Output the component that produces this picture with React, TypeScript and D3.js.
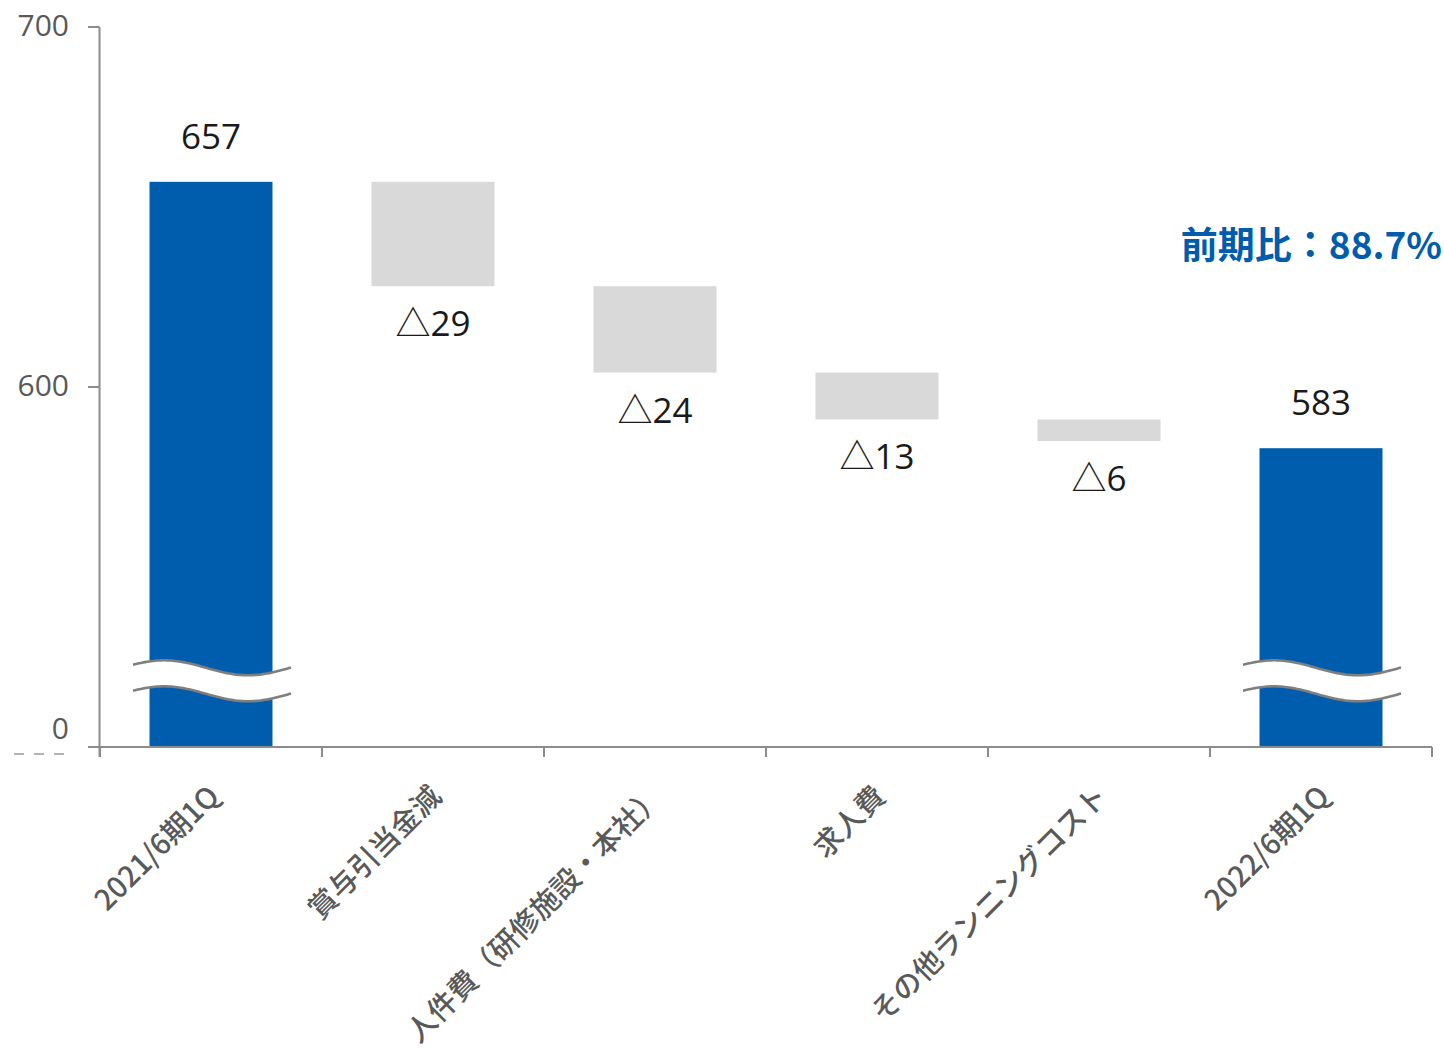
import React from "react";
import * as d3 from "d3";

const categories = [
  "2021/6期1Q",
  "賞与引当金減",
  "人件費（研修施設・本社）",
  "求人費",
  "その他ランニングコスト",
  "2022/6期1Q",
];
const startValue = 657;
const endValue = 583;
const deltas = [-29, -24, -13, -6];
const deltaLabels = ["△29", "△24", "△13", "△6"];
const yTickValues = [500, 600, 700];
const yTickLabels = ["0", "600", "700"];
const breakValue = 522;
const ratioLabel = "前期比：88.7%";

const W = 1444;
const H = 1050;
const BLUE = "#005CAD";
const GRAY_BAR = "#D9D9D9";
const AXIS = "#8C8C8C";
const TEXT_GRAY = "#595959";

type Bar = { cat: string; y0: number; y1: number; kind: "total" | "delta"; label: string };

function buildBars(): Bar[] {
  const bars: Bar[] = [];
  bars.push({ cat: categories[0], y0: 500, y1: startValue, kind: "total", label: String(startValue) });
  let cur = startValue;
  deltas.forEach((d, i) => {
    const next = cur + d;
    bars.push({ cat: categories[i + 1], y0: next, y1: cur, kind: "delta", label: deltaLabels[i] });
    cur = next;
  });
  bars.push({ cat: categories[5], y0: 500, y1: endValue, kind: "total", label: String(endValue) });
  return bars;
}

export default function App() {
  const x = d3.scaleBand<string>().domain(categories).range([100, 1432]).paddingInner(0.446).paddingOuter(0.223);
  const y = d3.scaleLinear().domain([500, 700]).range([747, 27]);
  const bars = buildBars();
  const step = x.step();
  const boundaries = d3.range(categories.length + 1).map((i) => 100 + i * step);
  const valueFont = "'Open Sans', 'Noto Sans CJK JP', sans-serif";

  const breakY = y(breakValue);
  const waveTop = (cx: number) =>
    d3.range(-78, 82, 2).map((dx) => [cx + dx, breakY + 7.5 * Math.cos((2 * Math.PI * (dx - 37)) / 168)] as [number, number]);
  const line = d3.line();

  return (
    <svg width={W} height={H} style={{ position: "absolute", left: 0, top: 0, background: "#fff" }}>
      {/* bars */}
      {bars.map((b, i) => {
        const bx = x(b.cat)!;
        const bw = x.bandwidth();
        const top = y(b.y1);
        const bottom = y(b.y0);
        const cx = bx + bw / 2;
        return (
          <g key={i}>
            <rect x={bx} y={top} width={bw} height={bottom - top} fill={b.kind === "total" ? BLUE : GRAY_BAR} />
            {b.kind === "total" ? (
              <text x={cx} y={top - 33} textAnchor="middle" fontFamily={valueFont} fontSize={35} fill="#1a1a1a">
                {b.label}
              </text>
            ) : (
              <text x={cx} y={bottom + 50} textAnchor="middle" fontFamily={valueFont} fontSize={35} fill="#1a1a1a">
                {b.label}
              </text>
            )}
          </g>
        );
      })}

      {/* axis break waves */}
      {bars
        .filter((b) => b.kind === "total")
        .map((b, i) => {
          const cx = x(b.cat)! + x.bandwidth() / 2;
          const top = waveTop(cx);
          const bot = top.map(([px, py]) => [px, py + 26] as [number, number]);
          const area = line([...top, ...bot.slice().reverse()])! + "Z";
          return (
            <g key={"brk" + i}>
              <path d={area} fill="#fff" />
              <path d={line(top)!} fill="none" stroke="#7f7f7f" strokeWidth={2.6} />
              <path d={line(bot)!} fill="none" stroke="#7f7f7f" strokeWidth={2.6} />
            </g>
          );
        })}

      {/* y axis */}
      <line x1={99.5} x2={99.5} y1={y(700)} y2={757} stroke={AXIS} strokeWidth={2} />
      {yTickValues.map((v, i) => (
        <g key={"yt" + v}>
          <line x1={88} x2={99.5} y1={y(v)} y2={y(v)} stroke={AXIS} strokeWidth={2} />
          <text
            x={69}
            y={y(v) + (v === 500 ? -20 : -3)}
            textAnchor="end"
            dominantBaseline="central"
            fontFamily={valueFont}
            fontSize={30}
            fill={TEXT_GRAY}
          >
            {yTickLabels[i]}
          </text>
        </g>
      ))}
      {[14, 34, 54].map((dx) => (
        <line key={"d" + dx} x1={dx} x2={dx + 10} y1={754} y2={754} stroke="#9a9a9a" strokeWidth={1.5} />
      ))}

      {/* x axis */}
      <line x1={99.5} x2={1432} y1={y(500)} y2={y(500)} stroke={AXIS} strokeWidth={2} />
      {boundaries.map((bx, i) => (
        <line key={"xt" + i} x1={bx} x2={bx} y1={y(500)} y2={757} stroke={AXIS} strokeWidth={2} />
      ))}
      {categories.map((c) => {
        const cx = x(c)! + x.bandwidth() / 2;
        return (
          <text
            key={c}
            transform={`translate(${cx + 1},${789}) rotate(-45)`}
            textAnchor="end"
            dominantBaseline="central"
            fontFamily="'Noto Sans CJK JP', sans-serif"
            fontSize={29}
            fontWeight={500}
            fill={TEXT_GRAY}
          >
            {c}
          </text>
        );
      })}

      {/* ratio annotation */}
      <text
        x={1442}
        y={259}
        textAnchor="end"
        fontFamily="'Noto Sans CJK JP', sans-serif"
        fontSize={37}
        fontWeight={700}
        fill={BLUE}
      >
        {ratioLabel}
      </text>
    </svg>
  );
}
